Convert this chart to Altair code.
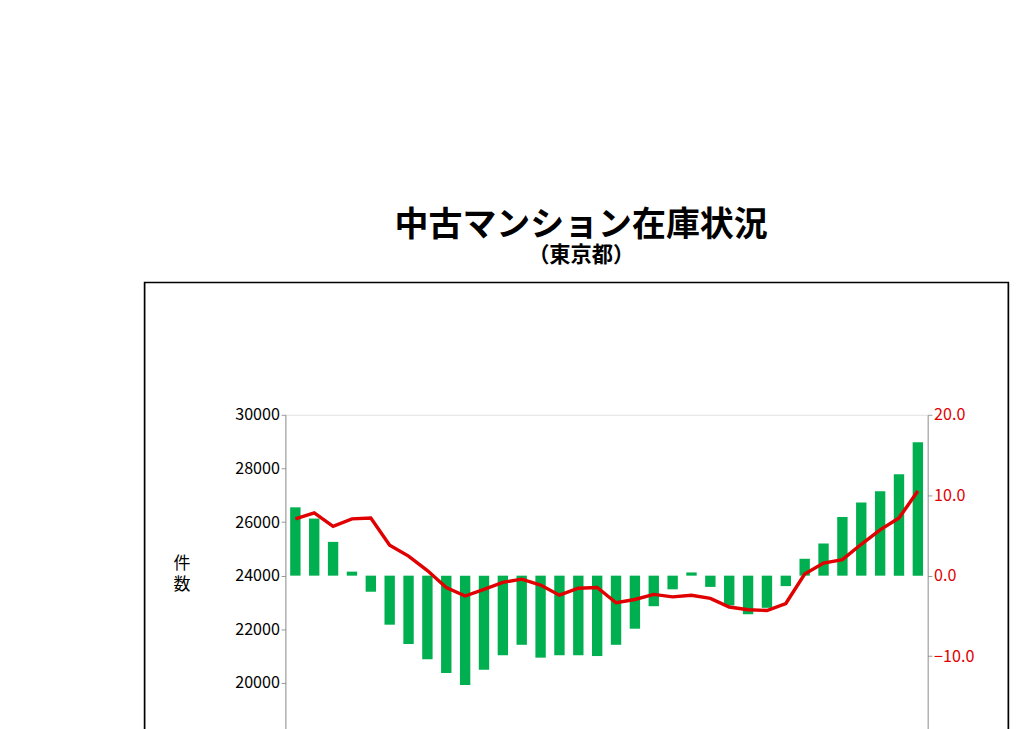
import pandas as pd
import altair as alt

months = ["2023/10", "2023/11", "2023/12",
          "2024/01", "2024/02", "2024/03", "2024/04", "2024/05", "2024/06",
          "2024/07", "2024/08", "2024/09", "2024/10", "2024/11", "2024/12",
          "2025/01", "2025/02", "2025/03", "2025/04", "2025/05", "2025/06",
          "2025/07", "2025/08", "2025/09", "2025/10", "2025/11", "2025/12",
          "2026/01", "2026/02", "2026/03", "2026/04", "2026/05", "2026/06", "2026/07"]
yoy = [8.5, 7.1, 4.2, 0.5, -2.0, -6.1, -8.5, -10.4, -12.1, -13.6, -11.7, -9.9,
       -8.6, -10.2, -9.9, -9.9, -10.0, -8.6, -6.6, -3.8, -1.7, 0.4, -1.4, -3.7,
       -4.8, -4.0, -1.3, 2.1, 4.0, 7.3, 9.1, 10.5, 12.6, 16.6]
stock = [26120, 26340, 25840, 26120, 26150, 25140, 24730, 24190, 23560, 23240,
         23490, 23750, 23870, 23650, 23270, 23530, 23560, 22990, 23110, 23300,
         23210, 23270, 23150, 22830, 22730, 22700, 22960, 24060, 24470, 24600,
         25170, 25710, 26150, 27160]

df = pd.DataFrame({"month": months, "yoy": yoy, "stock": stock})
FONT = "Noto Sans CJK JP"
GREEN = "#00B050"
RED = "#E00000"

label_expr = ("datum.value == '2023/10' || slice(datum.value, 5) == '01'"
              " ? datum.value : slice(datum.value, 5)")
x = alt.X("month:O", title=None, sort=months,
          scale=alt.Scale(paddingInner=0.45, paddingOuter=0.25),
          axis=alt.Axis(labelAngle=-90, labelExpr=label_expr, labelFontSize=19,
                        labelColor="black", domainColor="#888", ticks=False,
                        labelPadding=6, labelFont=FONT))

base = alt.Chart(df)

bars = base.mark_bar(color=GREEN).encode(
    x=x,
    y=alt.Y("yoy:Q", scale=alt.Scale(domain=[-20, 20]), title=None,
            axis=alt.Axis(orient="right", values=[-20, -10, 0, 10, 20], format=".1f",
                          labelColor=RED, labelFontSize=19, grid=False,
                          domainColor="#888", tickColor="#888", labelFont=FONT)),
)

line = base.mark_line(color=RED, strokeWidth=4).encode(
    x=x,
    y=alt.Y("stock:Q", scale=alt.Scale(domain=[18000, 30000]), title=None,
            axis=alt.Axis(values=list(range(18000, 30001, 2000)), labelFontSize=19,
                          labelColor="black", gridColor="#999", domainColor="#888",
                          tickColor="#888", labelFont=FONT, format="d")),
)

def text_at(t, px, py, size=21):
    return alt.Chart(pd.DataFrame({"t": [t]})).mark_text(
        fontSize=size, font=FONT, align="left", baseline="middle").encode(
        x=alt.value(px), y=alt.value(py), text="t:N")

# y axis title, legend (drawn manually) and outer frame
ytitle1 = text_at("件", -132, 176, 20)
ytitle2 = text_at("数", -132, 200, 20)
leg_box = alt.Chart(pd.DataFrame({"a": [0]})).mark_rect(color=GREEN).encode(
    x=alt.value(160), x2=alt.value(205), y=alt.value(511), y2=alt.value(526))
leg_line = alt.Chart(pd.DataFrame({"a": [0]})).mark_rule(color=RED, strokeWidth=4).encode(
    x=alt.value(370), x2=alt.value(420), y=alt.value(518))
leg_t1 = text_at("前年比（%）", 210, 518)
leg_t2 = text_at("在庫件数", 425, 518)
frame = alt.Chart(pd.DataFrame({"a": [0]})).mark_rect(
    fill=None, stroke="black", strokeWidth=2).encode(
    x=alt.value(-166), x2=alt.value(852), y=alt.value(-156), y2=alt.value(567))

chart = alt.layer(bars, line).resolve_scale(y="independent")
chart = alt.layer(chart, ytitle1, ytitle2, leg_box, leg_line, leg_t1, leg_t2, frame).properties(
    width=757, height=379,
    padding={"left": 160, "top": 150, "right": 8, "bottom": 8},
    autosize=alt.AutoSizeParams(type="pad"),
    title=alt.TitleParams("中古マンション在庫状況", subtitle="（東京都）", fontSize=40,
                          subtitleFontSize=25, font=FONT, subtitleFont=FONT,
                          fontWeight="bold", subtitleFontWeight="bold",
                          color="black", subtitleColor="black", anchor="middle",
                          offset=18, dx=-30),
).configure_view(stroke=None).configure(background="white")

chart.save("out.html", embed_options={"renderer": "svg", "actions": False})
